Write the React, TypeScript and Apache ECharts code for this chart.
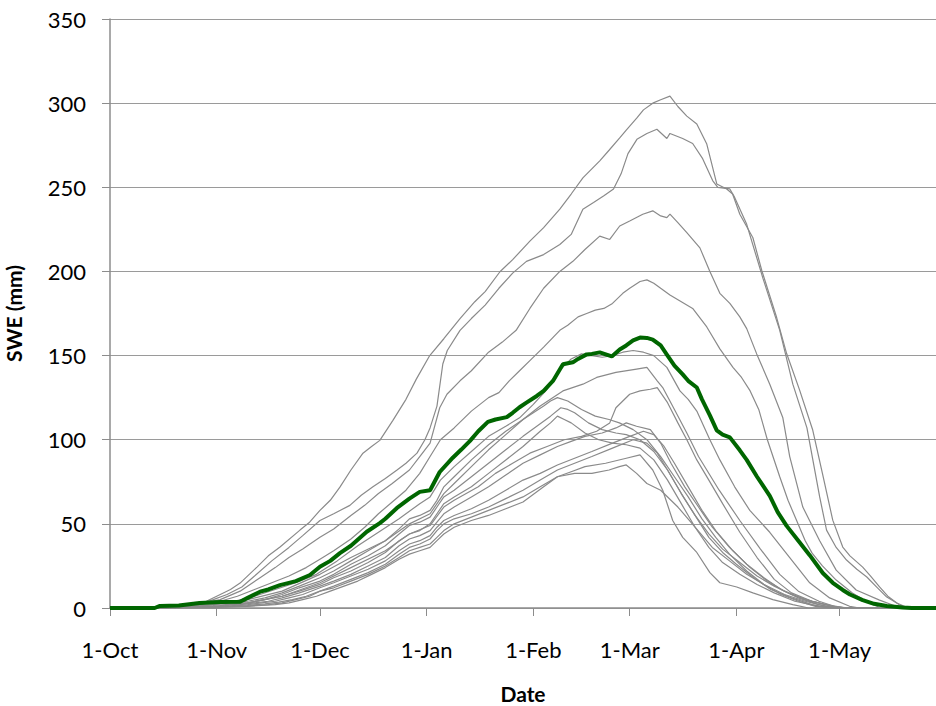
import React, { useEffect, useRef } from "react";
import * as echarts from "echarts";

// x values are days since 1-Oct
const monthTickDays = [0, 31, 61, 92, 123, 151, 182, 212];
const monthTickLabels = ["1-Oct", "1-Nov", "1-Dec", "1-Jan", "1-Feb", "1-Mar", "1-Apr", "1-May"];

const lineA = [[0,0],[13,0],[15,1.5],[20,1],[25,2],[28,4],[31,7],[35,11],[37.8,14.8],[42.7,24.3],[46,31],[49.4,36.2],[55.2,46.3],[58,51],[61,58],[64,64],[66.8,71.8],[70,82],[73.5,92],[76,96],[78.4,99.6],[82.2,111.5],[86,124],[89,136],[92.9,150],[97,160],[101.7,172],[106,182],[109,188],[113.3,199.8],[117,207],[122,218],[126,226],[130.7,237],[134,246],[137.4,255.6],[142.3,265.7],[145,272],[148.1,279.3],[150,284],[153.1,291.2],[155,296],[157.7,300],[160,302],[162.7,304.2],[165,298],[167.6,292.3],[170.5,287.6],[173.4,275.7],[176.3,252],[179.2,249],[180.9,246],[183,234],[186.8,220],[189.4,200.4],[193.7,172.6],[196.6,151.2],[200.4,129.3],[204.2,105.6],[207,80],[210,52.2],[212.9,36.2],[215,31],[218.7,24.3],[221,19],[223.6,12.5],[226,7],[229.4,1.8],[232.4,0],[240,0]];
const lineB = [[0,0],[14,0],[16,1],[20,0.5],[25,1.5],[30,5],[34,8],[38.3,12.5],[42,19],[47,28],[52,36],[56,43],[61,52],[65,56],[69.7,61],[73,67],[76.4,72],[80,77],[83.4,82],[86,86],[89.2,92],[91.5,100],[93,107],[95,120],[96.7,145],[98,153],[101.7,165],[105,172],[109,180],[113,190],[117,199],[121,206],[126,210],[130.7,216],[134,222],[137.4,237],[140.5,241],[143.5,245],[146.3,249],[148.5,258],[150.5,270],[153.1,278.5],[156,282],[158.9,284.5],[161.8,279],[162.7,282],[166.4,279],[169.3,276],[172.2,267],[175.1,254],[176.6,250],[180.1,249],[181.5,244],[185,228],[189.7,196],[194.6,165],[198.4,133],[202.5,107],[206.2,66],[208.2,46.3],[211,36],[214,28.5],[217,23],[219.9,18.4],[223,12],[225.7,6.5],[228.6,3],[232,0],[240,0]];
const lineC = [[0,0],[14,0],[17,1],[22,1.5],[27,3],[32,5],[37.8,10],[43.6,18],[48,24],[52,30],[56,35],[61,42],[65,47],[70,55],[74,61],[78,68],[82,74],[87,82],[90,90],[93,98],[95.8,119],[97.9,127],[101.7,135],[105,141],[110,152],[114,158],[118,165],[122,178],[126,190],[130.7,200],[134.5,206],[138,213],[142.3,221],[145.2,219],[148.1,227],[151,230],[154.8,234],[157.7,236],[160,233],[161.8,232],[162.7,234],[165,229],[167.6,223],[171.4,214],[174.3,200],[177.2,187],[180.1,181],[183,173],[185,166],[187.9,151],[191.7,133],[195.5,113],[197.5,90],[201.3,60],[206.2,40],[211,22.5],[216.8,10.7],[223.6,4.7],[227.4,1.8],[230,0],[240,0]];
const lineD = [[0,0],[14,0],[17,1],[22,1],[27,2.5],[32,4],[37,7],[42,11],[47,15],[52,19],[57,24],[61,29],[65,34],[70,41],[74,48],[78,56],[82,63],[86,70],[90,80],[93,90],[96,100],[100,107],[105,117],[110,125],[113,128],[116,135],[119,141],[122,147],[126,155],[130.7,165],[133,168],[136,173],[138.5,175],[141,177],[143.5,178],[146,181],[149,187],[151,190],[154,194],[156,195],[158,193],[160,190],[162.7,186],[166,182],[169.3,178],[173.4,167],[177.2,154],[181,143],[183.5,137],[186,129],[188.5,118],[191,100],[194.6,78],[197,64],[199.5,52],[202,40],[204,32.6],[207,25],[211,16.6],[215.7,8.9],[220.6,3],[224,0],[240,0]];
const lineF = [[0,0],[14,0],[18,1],[24,1.5],[30,3],[36,4],[42,7],[48,11],[54,15],[60,20],[66,28],[72,37],[78,45],[84,53],[90,62],[93,66],[96,76],[100,84],[105,93],[110,102],[115,108],[119,113],[123,121],[127,130],[131,142],[134,148],[137,151],[140,150],[143,149],[146,150],[149,152],[152,153],[155,152],[158,150],[161.8,143],[165.6,129],[168,124],[170.5,117],[174.3,100],[177.2,88],[181.5,72],[185.9,58],[191.7,45],[197.5,30],[203.3,15],[209.1,6],[214.9,1],[217.8,0],[240,0]];
const lineG = [[0,0],[14,0],[20,1],[30,2],[40,5],[50,10],[61,20],[70,30],[80,40],[87,50],[93,56],[97,68],[100,74],[105,84],[110,94],[115,103],[120,112],[125,120],[131.6,129],[137.4,133],[141.4,137],[147,140],[153,142],[156,143],[159,135],[160.6,131],[164,118],[167.6,104],[171,90],[177,70],[183,52],[189,35],[194.6,20],[200,10],[206,4],[212,0],[240,0]];
const lineH = [[0,0],[14,0],[22,0.5],[30,1.5],[40,3],[50,7],[61,15],[70,24],[80,34],[87,44],[93,49],[97,60],[100,64],[107,72],[112,80],[117,86],[122,92],[127,96],[132,100],[137,102],[141.4,105],[145.2,110],[147,119],[151,127],[154,129],[157,130],[159,131],[162,122],[165,110],[167.6,100],[170.5,88],[174,76],[178,62],[183,45],[188,30],[193,17],[198,9],[204,4],[210,1],[215,0],[240,0]];
const lineI = [[0,0],[14,0],[17,1],[20,0.5],[25,1],[30,2],[35,3],[40,4],[45,6],[50,9],[55,13],[61,18],[65,22],[70,28],[75,34],[80,40],[84,47],[87,53],[90,55],[93,58],[95,64],[97,72],[100,78],[105,88],[110,97],[115,105],[120,112],[123,116],[126,120],[128,123],[130,125],[133,123],[137,118],[141,114],[145,112],[148,110],[152,106],[156,100],[160,90],[164,78],[168,66],[172,53],[176,42],[180,32],[185,22],[190,14],[195,8],[200,4],[205,1],[210,0],[240,0]];
const lineJ = [[0,0],[14,0],[22,0.5],[30,1],[35,2],[40,3],[45,5],[50,8],[55,12],[61,16],[65,20],[70,26],[75,31],[80,37],[84,44],[87,49],[90,51],[93,54],[95,60],[97,66],[100,70],[105,78],[110,86],[115,94],[120,102],[124,108],[128,114],[131,119],[133,118],[135,116],[139,110],[143,106],[147,104],[150,103],[154,100],[158,93],[162,82],[166,68],[170,55],[174,42],[178,33],[182,26],[187,18],[192,11],[198,6],[204,2],[209,0],[240,0]];
const lineK = [[0,0],[14,0],[24,0.5],[32,1],[36,2],[40,3],[45,5],[50,7],[55,10],[61,14],[65,18],[70,22],[75,27],[80,33],[84,40],[87,44],[90,46],[93,50],[95,56],[97,62],[100,66],[105,72],[110,80],[115,88],[120,96],[125,105],[128,110],[130,114],[132,112],[134,110],[138,104],[142,100],[146,98],[150,97],[154,95],[158,88],[162,76],[166,62],[170,48],[174,36],[178,27],[183,20],[188,14],[193,9],[199,4],[206,1],[212,0],[240,0]];
const lineL = [[0,0],[14,0],[25,0.5],[34,1],[38,2],[42,3],[46,4],[50,6],[55,9],[61,13],[65,16],[70,20],[75,25],[80,30],[84,37],[87,41],[90,43],[93,46],[95,51],[97,56],[100,60],[105,66],[110,72],[115,79],[120,86],[125,91],[130,96],[134,99],[138,102],[143,104],[147,107],[150,110],[153,108],[157,106],[160,98],[163,86],[167,72],[171,60],[175,48],[180,36],[185,26],[190,18],[195,11],[200,6],[206,2],[211,0],[240,0]];
const lineM = [[0,0],[14,0],[26,0.5],[35,1],[40,2],[44,3],[48,4],[52,6],[56,8],[61,12],[65,15],[70,19],[75,23],[80,28],[84,34],[87,38],[90,40],[93,43],[95,48],[97,52],[100,55],[105,59],[110,64],[115,70],[120,76],[125,80],[130,85],[135,89],[140,93],[146,98],[151,102],[155,105],[158,103],[161,96],[164,86],[168,72],[172,58],[176,46],[181,34],[186,24],[191,16],[196,10],[202,5],[208,2],[214,0],[240,0]];
const lineN = [[0,0],[14,0],[26,0.5],[36,1],[40,1.5],[45,2.5],[49,3.5],[53,5],[57,7],[61,10],[65,13],[70,17],[75,21],[80,26],[84,32],[87,36],[90,38],[93,41],[95,46],[97,50],[100,53],[105,56],[110,60],[115,65],[120,70],[125,76],[130,82],[135,86],[140,90],[146,95],[152,100],[156,98],[159,92],[162,82],[166,68],[170,55],[174,44],[178,35],[183,27],[188,19],[193,13],[198,8],[204,4],[210,1],[214,0],[240,0]];
const lineO = [[0,0],[14,0],[28,0.5],[38,1],[42,1.5],[46,2],[50,3],[54,5],[58,7],[61,10],[65,12],[70,16],[75,20],[80,25],[84,30],[87,34],[90,36],[93,38],[95,42],[97,46],[100,50],[105,54],[110,58],[115,62],[120,66],[125,72],[130,78],[134,81],[138,84],[144,86],[150,89],[154,91],[157.7,82],[160.6,70],[163.5,52],[166.4,42],[170.5,33],[174.3,21],[177.2,15],[182.1,12.5],[186.8,9],[192.6,5],[198.4,2],[203,0],[240,0]];
const lineP = [[0,0],[14,0],[30,0.5],[40,1],[44,1.5],[48,2],[52,3],[56,5],[60,7],[64,10],[68,13],[72,16],[76,20],[80,24],[84,29],[87,32],[90,34],[93,36],[95,40],[97,44],[100,48],[105,52],[110,55],[115,59],[120,63],[126,72],[130,78],[135,80],[140,80],[145,82],[148,84],[150,85],[153,80],[156,74],[160,70],[165,60],[170,48],[175,36],[180,28],[185,20],[190,14],[196,8],[202,4],[208,1],[212,0],[240,0]];
const meanLine = [[0,0],[13,0],[14.5,1.2],[20,1.5],[26,3],[32,3.5],[37.8,3.7],[40,6],[43.6,9.7],[46,11],[49.4,13.6],[54,16],[58.1,19.6],[61,24.5],[64,28],[66.8,32.6],[70,37],[74.6,45.3],[78.4,50.4],[80,53],[83.3,59.3],[87,65],[90,69],[93,70],[95.8,80.8],[99.6,89.3],[102,94],[104.6,99.3],[107,105],[109.8,110.6],[112,112],[115.3,113.4],[117,116],[119,119.3],[121,122],[124,126],[126,129],[128.7,134.9],[131.6,144.8],[134.5,146],[136,148],[138.5,150.7],[140,151],[142.3,151.9],[145.8,149.5],[148.1,153.6],[150,156],[152,159],[154,160.7],[156,160.5],[157.7,159.5],[160,156],[161.8,150.6],[164,144],[166.4,138.8],[168,135],[170.5,131],[172,124],[174.3,114.5],[176.3,105.6],[178,103],[180.1,101.4],[183,93.7],[185,88],[188,78],[191.7,66.6],[194,57],[196.6,48.8],[200,40],[203.3,31.4],[207.1,20.8],[210,15],[212.9,10.7],[215,8],[218.7,4.7],[222,2.5],[225.7,1.2],[230.3,0.3],[233,0],[240,0]];

const grayLines = [lineA, lineB, lineC, lineD, lineF, lineG, lineH, lineI, lineJ, lineK, lineL, lineM, lineN, lineO, lineP];

const FONT = "Lato";

export default function App() {
  const ref = useRef<HTMLDivElement>(null);
  useEffect(() => {
    const chart = echarts.init(ref.current!, null, { renderer: "svg" });
    const labelByDay: Record<number, string> = {};
    monthTickDays.forEach((d, i) => (labelByDay[d] = monthTickLabels[i]));
    const axisColor = "#8c8c8c";
    chart.setOption({
      animation: false,
      textStyle: { fontFamily: FONT },
      grid: { left: 110, right: 0, top: 19, bottom: 98, containLabel: false, outerBoundsMode: "none" },
      xAxis: {
        type: "value",
        min: 0,
        max: 240,
        name: "Date",
        nameLocation: "middle",
        nameGap: 74,
        nameTextStyle: { fontFamily: FONT, fontWeight: "bold", fontSize: 21, lineHeight: 22, color: "#000" },
        axisLine: { show: true, onZero: false, lineStyle: { color: axisColor, width: 1.5 } },
        axisTick: { show: true, customValues: monthTickDays, length: 8, lineStyle: { color: axisColor } },
        axisLabel: {
          customValues: monthTickDays,
          formatter: (v: number) => labelByDay[v] ?? "",
          margin: 30,
          fontFamily: FONT,
          fontSize: 22,
          color: "#000",
        },
        splitLine: { show: false },
      },
      yAxis: {
        type: "value",
        min: 0,
        max: 350,
        interval: 50,
        name: "SWE (mm)",
        nameLocation: "middle",
        nameGap: 86,
        nameRotate: 90,
        nameTextStyle: { fontFamily: FONT, fontWeight: "bold", fontSize: 21, lineHeight: 22, color: "#000" },
        axisLine: { show: true, lineStyle: { color: axisColor, width: 1.5 } },
        axisTick: { show: true, length: 8, lineStyle: { color: axisColor } },
        axisLabel: { margin: 24, fontFamily: FONT, fontSize: 22, color: "#000" },
        splitLine: { show: true, lineStyle: { color: "#9a9a9a", width: 1 } },
      },
      series: [
        ...grayLines.map((d) => ({
          type: "line",
          data: d,
          showSymbol: false,
          symbol: "none",
          silent: true,
          lineStyle: { color: "#8a8a8a", width: 1.2 },
          z: 2,
        })),
        {
          type: "line",
          data: meanLine,
          showSymbol: false,
          symbol: "none",
          silent: true,
          lineStyle: { color: "#006600", width: 4 },
          z: 3,
        },
      ],
    });
    return () => chart.dispose();
  }, []);
  return <div ref={ref} style={{ position: "absolute", left: 0, top: 0, width: 936, height: 706 }} />;
}
